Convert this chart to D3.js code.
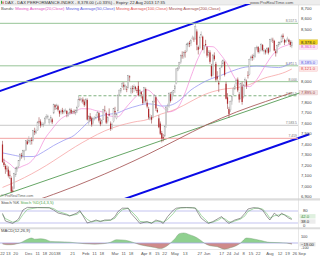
<!DOCTYPE html>
<html><head><meta charset="utf-8">
<script src="https://cdn.jsdelivr.net/npm/d3@7/dist/d3.min.js"></script>
<style>html,body{margin:0;padding:0;background:#fff;}svg{display:block;font-family:"Liberation Sans",Arial,sans-serif;}</style>
</head><body><svg id="c" width="320" height="256"></svg>
<script>
// ---------- DATA ----------
const dates = ["2012-11-07","2012-11-08","2012-11-09","2012-11-12","2012-11-13","2012-11-14","2012-11-15","2012-11-16","2012-11-19","2012-11-20","2012-11-21","2012-11-22","2012-11-23","2012-11-26","2012-11-27","2012-11-28","2012-11-29","2012-11-30",
"2012-12-03","2012-12-04","2012-12-05","2012-12-06","2012-12-07","2012-12-10","2012-12-11","2012-12-12","2012-12-13","2012-12-14","2012-12-17","2012-12-18","2012-12-19","2012-12-20","2012-12-21","2012-12-27","2012-12-28",
"2013-01-02","2013-01-03","2013-01-04","2013-01-07","2013-01-08","2013-01-09","2013-01-10","2013-01-11","2013-01-14","2013-01-15","2013-01-16","2013-01-17","2013-01-18","2013-01-21","2013-01-22","2013-01-23","2013-01-24","2013-01-25","2013-01-28","2013-01-29","2013-01-30","2013-01-31",
"2013-02-01","2013-02-04","2013-02-05","2013-02-06","2013-02-07","2013-02-08","2013-02-11","2013-02-12","2013-02-13","2013-02-14","2013-02-15","2013-02-18","2013-02-19","2013-02-20","2013-02-21","2013-02-22","2013-02-25","2013-02-26","2013-02-27","2013-02-28",
"2013-03-01","2013-03-04","2013-03-05","2013-03-06","2013-03-07","2013-03-08","2013-03-11","2013-03-12","2013-03-13","2013-03-14","2013-03-15","2013-03-18","2013-03-19","2013-03-20","2013-03-21","2013-03-22","2013-03-25","2013-03-26","2013-03-27","2013-03-28",
"2013-04-02","2013-04-03","2013-04-04","2013-04-05","2013-04-08","2013-04-09","2013-04-10","2013-04-11","2013-04-12","2013-04-15","2013-04-16","2013-04-17","2013-04-18","2013-04-19","2013-04-22","2013-04-23","2013-04-24","2013-04-25","2013-04-26","2013-04-29","2013-04-30",
"2013-05-02","2013-05-03","2013-05-06","2013-05-07","2013-05-08","2013-05-09","2013-05-10","2013-05-13","2013-05-14","2013-05-15","2013-05-16","2013-05-17","2013-05-20","2013-05-21","2013-05-22","2013-05-23","2013-05-24","2013-05-27","2013-05-28","2013-05-29","2013-05-30","2013-05-31",
"2013-06-03","2013-06-04","2013-06-05","2013-06-06","2013-06-07","2013-06-10","2013-06-11","2013-06-12","2013-06-13","2013-06-14","2013-06-17","2013-06-18","2013-06-19","2013-06-20","2013-06-21","2013-06-24","2013-06-25","2013-06-26","2013-06-27","2013-06-28",
"2013-07-01","2013-07-02","2013-07-03","2013-07-04","2013-07-05","2013-07-08","2013-07-09","2013-07-10","2013-07-11","2013-07-12","2013-07-15","2013-07-16","2013-07-17","2013-07-18","2013-07-19","2013-07-22","2013-07-23","2013-07-24","2013-07-25","2013-07-26","2013-07-29","2013-07-30","2013-07-31",
"2013-08-01","2013-08-02","2013-08-05","2013-08-06","2013-08-07","2013-08-08","2013-08-09","2013-08-12","2013-08-13","2013-08-14","2013-08-15","2013-08-16","2013-08-19","2013-08-20","2013-08-21","2013-08-22"];
const futureDates = ["2013-08-23","2013-08-26","2013-08-27","2013-08-28","2013-08-29","2013-08-30","2013-09-02","2013-09-03","2013-09-04"];

const opens = [7400,7230,7195,7170,7160,7110,7080,6960,6980,7110,7165,7190,7250,7300,7290,7330,7345,7430,
7420,7430,7445,7440,7530,7510,7535,7620,7620,7580,7590,7600,7660,7660,7610,7650,7640,
7700,7775,7740,7765,7720,7705,7730,7715,7720,7720,7680,7700,7730,7705,7720,7700,7720,7760,7835,7830,7830,7810,
7790,7825,7610,7670,7650,7600,7650,7660,7670,7700,7620,7600,7640,7730,7700,7620,7690,7600,7560,7620,
7720,7650,7720,7880,7910,7950,7970,7950,7930,7940,8050,7900,7940,7930,7950,7920,7960,7880,7900,7860,
7800,7930,7800,7740,7640,7660,7660,7810,7850,7730,7650,7600,7510,7470,7480,7580,7740,7760,7880,7830,7900,
7930,7980,8110,8140,8180,8250,8240,8280,8290,8350,8370,8365,8410,8410,8410,8480,8330,8320,8440,8430,8310,8360,
8330,8260,8280,8150,8060,8250,8170,8050,7990,8020,8140,8170,8190,7980,7850,7740,7730,7810,7880,7930,
7980,8020,7880,7840,7950,7860,7990,8000,8060,8070,8220,8240,8230,8240,8320,8330,8290,8300,8350,8290,8300,8290,8320,
8290,8400,8400,8390,8290,8280,8350,8370,8380,8440,8400,8380,8400,8400,8380,8340];
const highs = [7435,7265,7215,7200,7190,7150,7095,7000,7130,7185,7195,7250,7315,7320,7350,7350,7440,7450,
7480,7460,7470,7540,7560,7545,7625,7660,7640,7615,7610,7660,7690,7685,7650,7680,7655,
7790,7785,7790,7780,7730,7735,7750,7735,7745,7730,7710,7750,7745,7725,7735,7735,7770,7865,7850,7845,7850,7830,
7845,7840,7680,7700,7665,7665,7670,7690,7720,7710,7650,7640,7740,7770,7715,7670,7745,7620,7610,7750,
7760,7700,7880,7925,7940,8000,7995,7975,7960,8065,8060,7960,7965,7975,7960,7940,8000,7930,7910,7880,
7950,7945,7830,7760,7690,7680,7820,7880,7860,7750,7680,7620,7530,7500,7580,7770,7790,7900,7900,7910,7920,
7975,8130,8140,8190,8260,8290,8290,8300,8370,8380,8390,8400,8440,8430,8557,8500,8345,8440,8480,8440,8350,8400,
8340,8300,8300,8170,8265,8280,8190,8100,8010,8140,8200,8215,8200,8000,7890,7760,7820,7870,7950,7980,
8030,8040,7900,7990,8000,7980,8040,8020,8100,8220,8250,8260,8270,8330,8345,8340,8320,8370,8360,8320,8310,8330,8330,
8410,8420,8420,8400,8310,8355,8385,8390,8450,8460,8410,8400,8430,8410,8395,8395];
const lows = [7225,7185,7120,7140,7085,7070,6940,6945,6975,7090,7140,7175,7240,7265,7270,7250,7340,7395,
7410,7395,7400,7430,7490,7500,7530,7600,7560,7570,7565,7590,7640,7640,7590,7610,7595,
7690,7730,7735,7715,7665,7685,7690,7690,7705,7660,7665,7690,7690,7690,7690,7680,7700,7755,7815,7800,7790,7760,
7770,7630,7590,7620,7570,7590,7630,7640,7660,7610,7575,7590,7635,7710,7595,7600,7670,7530,7540,7610,
7680,7640,7715,7870,7890,7940,7920,7920,7900,7935,8005,7880,7890,7900,7915,7890,7860,7860,7840,7780,
7795,7800,7745,7640,7630,7600,7650,7800,7720,7700,7555,7490,7420,7430,7470,7560,7710,7750,7800,7820,7860,
7890,7975,8100,8120,8170,8220,8220,8230,8280,8330,8330,8340,8400,8380,8400,8300,8260,8310,8420,8300,8270,8340,
8230,8240,8170,8040,8050,8200,8000,8010,7900,8010,8130,8150,8050,7830,7740,7655,7710,7780,7870,7920,
7960,7900,7800,7830,7780,7840,7960,7930,8030,8060,8200,8200,8210,8230,8300,8270,8270,8290,8290,8260,8260,8270,8260,
8280,8380,8370,8290,8240,8270,8330,8350,8370,8410,8350,8370,8390,8360,8330,8320];
const closes = [7232,7204,7163,7169,7101,7102,6950,6950,7124,7172,7183,7245,7309,7292,7344,7338,7435,7405,
7435,7438,7434,7534,7517,7530,7614,7614,7581,7597,7593,7653,7668,7672,7636,7655,7612,
7779,7756,7777,7732,7695,7720,7708,7715,7729,7692,7698,7735,7702,7714,7712,7725,7757,7833,7832,7834,7809,7776,
7833,7638,7665,7640,7590,7652,7652,7660,7705,7628,7593,7627,7733,7728,7609,7661,7680,7549,7590,7741,
7708,7691,7871,7920,7935,7986,7953,7962,7925,8058,8042,7939,7932,7954,7932,7912,7870,7917,7879,7795,
7943,7817,7763,7658,7663,7637,7810,7871,7744,7712,7565,7503,7459,7460,7569,7758,7740,7887,7815,7899,7913,
7960,8122,8131,8181,8249,8249,8279,8279,8355,8369,8359,8399,8417,8404,8530,8352,8305,8425,8450,8305,8348,8349,
8249,8276,8190,8054,8255,8215,8019,8029,7974,8127,8155,8202,8065,7837,7789,7692,7809,7858,7931,7959,
8011,7917,7829,7980,7806,7969,8019,7964,8059,8212,8237,8226,8250,8323,8331,8284,8294,8356,8303,8301,8279,8317,8276,
8401,8406,8397,8298,8272,8347,8376,8373,8437,8426,8373,8391,8408,8380,8352,8378];

// moving averages (index, value)
const ma20Idx = [0,5,9,14,19,24,29,34,39,44,49,54,59,64,69,74,79,84,89,94,99,104,109,114,119,124,129,134,139,144,149,154,159,164,169,174,179,184,189,194,198];
const ma20Val = [7260,7215,7170,7195,7230,7318,7455,7548,7633,7679,7705,7742,7741,7723,7709,7671,7665,7744,7824,7892,7922,7866,7770,7712,7737,7860,8049,8228,8337,8334,8264,8166,8034,7960,7953,8019,8134,8240,8314,8345,8363];
const ma50Idx = [0,7,14,21,28,35,42,49,54,59,64,69,74,79,84,89,94,99,104,109,114,119,124,129,134,139,144,149,154,159,164,169,174,179,184,189,194,198];
const ma50Val = [7320,7300,7285,7285,7330,7390,7440,7487,7550,7618,7654,7679,7691,7702,7733,7756,7776,7789,7782,7767,7772,7800,7857,7921,7966,8005,8034,8057,8086,8111,8133,8144,8149,8145,8138,8135,8154,8185];
const ma100Idx = [0,10,20,30,40,50,60,70,80,90,99,104,109,114,119,124,129,134,139,144,149,154,159,164,169,174,179,184,189,194,198];
const ma100Val = [6990,7050,7120,7200,7290,7380,7460,7530,7580,7615,7638,7666,7693,7713,7740,7774,7812,7849,7881,7905,7923,7934,7939,7953,7972,8003,8033,8052,8070,8094,8121];
const ma200Idx = [0,20,40,60,80,100,120,140,160,180,198];
const ma200Val = [6800,6855,6950,7060,7180,7310,7450,7590,7710,7810,7895];

// trend lines (index, value)
const trendIdx = [-2, 208];   const trendVal = [6904, 7915];
const chanUpIdx = [-2, 172];  const chanUpVal = [7910, 8760];
const chanLoIdx = [78, 210];  const chanLoVal = [6853, 7498];

// horizontal levels
const levelVals  = [8557.5, 8151.5, 8000, 7865.5, 7583.5, 7459];
const levelText  = ["8,557.5", "8,151.5", "8,000", "7,865.5", "7,583.5", "7,459"];
const levelStart = [-2, -2, -2, 52, -2, -2];

// stochastic (index, value)
const stochIdx = [0,2,7,11,14,17,24,32,35,38,44,46,51,53,58,61,64,67,70,74,77,79,82,86,88,92,94,99,102,105,108,110,113,117,119,122,126,130,132,134,136,139,141,144,148,150,152,155,157,159,163,166,168,172,175,178,181,183,186,189,191,193,196,198];
const stochK = [68,30,18,40,85,98,97,96,85,70,60,55,70,82,20,27,35,27,35,35,52,77,94,94,68,35,18,27,18,35,27,18,52,85,94,97,97,96,94,68,44,27,18,27,44,52,35,18,27,35,44,69,90,97,94,85,52,35,69,52,69,60,44,38];
const stochD = [62,42,24,30,62,88,97,97,92,78,64,57,63,76,38,25,30,30,31,34,44,65,86,94,80,50,28,24,22,28,30,24,38,68,88,95,97,96,95,80,58,36,22,24,36,46,42,26,24,30,40,56,78,92,95,90,66,44,56,60,62,62,52,42];

// MACD (index, value)
const macdIdx = [0,3,6,10,12,15,20,22,26,30,33,39,46,51,56,63,70,74,78,84,89,94,100,104,108,112,115,118,121,124,128,133,136,138,142,147,152,156,160,163,167,171,176,183,190,195,198];
const macdVal = [-15,-27,-27,-11,0,36,79,60,68,52,25,20,13,0,-11,-19,-8,13,52,44,13,-27,-54,-70,-88,-55,0,68,148,159,132,84,36,0,-43,-59,-98,-75,-43,0,79,68,44,10,5,-3,-19];

// tick labels (date, text)
const tickDates = ["2012-11-07","2012-11-13","2012-11-20","2012-12-03","2012-12-11","2012-12-18","2013-01-02","2013-01-08","2013-01-21","2013-02-01","2013-02-11","2013-02-18","2013-03-01","2013-03-11","2013-03-18","2013-04-02","2013-04-08","2013-04-15","2013-04-22","2013-05-02","2013-05-13","2013-05-27","2013-06-03","2013-06-17","2013-06-24","2013-07-01","2013-07-08","2013-07-15","2013-07-22","2013-08-01","2013-08-12","2013-08-19","2013-08-26","2013-09-02"];
const tickText  = ["22","13","20","Dec","11","18","2013","8","21","Feb","11","18","Mar","11","18","Apr","8","15","22","May","13","27","Jun","17","24","Jul","8","15","22","Aug","12","19","26","Sep"];
const priceTicks = [6900,7000,7100,7200,7300,7400,7500,7600,7700,7800,7900,8000,8100,8200,8300,8400,8500,8600,8700];

// ---------- DRAW ----------
const svg = d3.select("#c");
const allDates = dates.concat(futureDates);
const idxOf = d => allDates.indexOf(d);
const x  = d3.scaleLinear().domain([0, 198]).range([2.5, 291.8]);
const yP = d3.scaleLinear().domain([6889, 8742]).range([198, 4]);
const yS = d3.scaleLinear().domain([0, 100]).range([227, 207]);
const yM = d3.scaleLinear().domain([-100, 100]).range([249.3, 236.7]);
const FS = 4.2;

svg.append("rect").attr("width",320).attr("height",256).attr("fill","#fff");
const defs = svg.append("defs");
defs.append("clipPath").attr("id","cpMain").append("rect").attr("x",0).attr("y",4).attr("width",310).attr("height",194);
defs.append("clipPath").attr("id","cpPlot").append("rect").attr("x",0).attr("y",4).attr("width",298).attr("height",194);
defs.append("clipPath").attr("id","cpPos").append("rect").attr("x",0).attr("y",229).attr("width",298).attr("height",yM(0)-229);
defs.append("clipPath").attr("id","cpNeg").append("rect").attr("x",0).attr("y",yM(0)).attr("width",298).attr("height",250-yM(0));

// header
svg.append("rect").attr("x",0).attr("y",0).attr("width",320).attr("height",5).attr("fill","#ededed");
svg.append("line").attr("x1",0).attr("x2",320).attr("y1",5).attr("y2",5).attr("stroke","#cfcfcf").attr("stroke-width",0.5);
// panel separators
svg.append("rect").attr("x",0).attr("y",198.3).attr("width",320).attr("height",2.2).attr("fill","#dcdcdc");
svg.append("rect").attr("x",0).attr("y",227.3).attr("width",320).attr("height",2).attr("fill","#dcdcdc");
svg.append("line").attr("x1",298.5).attr("x2",298.5).attr("y1",5).attr("y2",250).attr("stroke","#cfcfcf").attr("stroke-width",0.5);
svg.append("line").attr("x1",0).attr("x2",298.5).attr("y1",249.5).attr("y2",249.5).attr("stroke","#cfcfcf").attr("stroke-width",0.5);

const main = svg.append("g").attr("clip-path","url(#cpMain)");
const plot = svg.append("g").attr("clip-path","url(#cpPlot)");

// horizontal levels
const levelColor = ["#96c496","#96c496","#96c496","#5e9e5e","#c8c8c8","#f2a2a2"];
levelVals.forEach((v,i)=>{
  plot.append("line").attr("x1",x(levelStart[i])).attr("x2",298).attr("y1",yP(v)).attr("y2",yP(v))
    .attr("stroke",levelColor[i]).attr("stroke-width",i===3?0.8:1)
    .attr("stroke-dasharray",i===3?"3,2":null);
  plot.append("text").attr("x",297).attr("y",yP(v)-1).attr("text-anchor","end")
    .attr("font-size",3.4).attr("fill","#777").text(levelText[i]);
});

// moving averages
const mkLine = (idx, val) => d3.line().x((d,i)=>x(idx[i])).y(d=>yP(d)).curve(d3.curveMonotoneX)(val);
plot.append("path").attr("d",mkLine(ma200Idx,ma200Val)).attr("fill","none").attr("stroke","#a04a4a").attr("stroke-width",0.8);
plot.append("path").attr("d",mkLine(ma100Idx,ma100Val)).attr("fill","none").attr("stroke","#f59a9a").attr("stroke-width",0.7);
plot.append("path").attr("d",mkLine(ma50Idx,ma50Val)).attr("fill","none").attr("stroke","#8c8cf0").attr("stroke-width",0.7);
plot.append("path").attr("d",mkLine(ma20Idx,ma20Val)).attr("fill","none").attr("stroke","#f28ad8").attr("stroke-width",0.7);

// candles
const cg = plot.append("g");
closes.forEach((c,i)=>{
  const o = opens[i], up = c >= o;
  cg.append("line").attr("x1",x(i)).attr("x2",x(i)).attr("y1",yP(highs[i])).attr("y2",yP(lows[i]))
    .attr("stroke", up ? "#9a9a9a" : "#8a2a2a").attr("stroke-width",0.5);
  const top = yP(Math.max(o,c)), h = Math.max(0.6, Math.abs(yP(o)-yP(c)));
  cg.append("rect").attr("x",x(i)-0.6).attr("y",top).attr("width",1.2).attr("height",h)
    .attr("fill", up ? "#e4e4e4" : "#b02a2e").attr("stroke", up ? "#9a9a9a" : "none").attr("stroke-width",0.3);
});

// trend + channel
const tl = (idx,val) => d3.line().x((d,i)=>x(idx[i])).y(d=>yP(d))(val);
main.append("path").attr("d",tl(trendIdx,trendVal)).attr("stroke","#3f8f3f").attr("stroke-width",0.8).attr("fill","none");
main.append("path").attr("d",tl(chanUpIdx,chanUpVal)).attr("stroke","#0a0ae6").attr("stroke-width",2).attr("fill","none");
main.append("path").attr("d",tl(chanLoIdx,chanLoVal)).attr("stroke","#0a0ae6").attr("stroke-width",2).attr("fill","none");

// value labels on the price axis
const lastClose = closes[closes.length-1];
const valueLabels = [
  {v: ma200Val[ma200Val.length-1], bg:"#f4e4e4", fg:"#a04a4a", bd:"#d9b0b0", dy:0},
  {v: ma100Val[ma100Val.length-1], bg:"#fde6e6", fg:"#e05050", bd:"#f2b0b0", dy:0},
  {v: ma50Val[ma50Val.length-1],  bg:"#e8e8fc", fg:"#5a5ae0", bd:"#b8b8f0", dy:0},
  {v: ma20Val[ma20Val.length-1],  bg:"#fde6f6", fg:"#e050c0", bd:"#f0b0e0", dy:3.2},
  {v: lastClose,                  bg:"#f3d21c", fg:"#222",    bd:"#c8a800", dy:0}
];
const labelYs = valueLabels.map(l => yP(l.v) + l.dy);
priceTicks.forEach(v=>{
  const yy = yP(v);
  if (labelYs.some(ly => Math.abs(ly-yy) < 5)) return;
  svg.append("text").attr("x",301).attr("y",yy+1.4).attr("font-size",FS).attr("fill","#444").text(d3.format(",")(v));
});
valueLabels.forEach((l,k)=>{
  const yy = labelYs[k];
  svg.append("rect").attr("x",299.5).attr("y",yy-2.3).attr("width",18).attr("height",4.6).attr("fill",l.bg).attr("stroke",l.bd).attr("stroke-width",0.3);
  svg.append("text").attr("x",301).attr("y",yy+1.4).attr("font-size",FS).attr("fill",l.fg).text(d3.format(",.1f")(l.v));
});

// header texts
svg.append("rect").attr("x",1).attr("y",0.8).attr("width",1).attr("height",3).attr("fill","#3a3");
svg.append("rect").attr("x",2.5).attr("y",1.5).attr("width",1).attr("height",2.3).attr("fill","#c33");
svg.append("text").attr("x",5).attr("y",3.8).attr("font-size",FS).attr("fill","#333")
  .text("DAX - DAX PERFORMANCE-INDEX - 8,378.00 (+0.33%) - Expiry: 22 Aug 2013 17:35");
svg.append("text").attr("x",250).attr("y",3.8).attr("font-size",FS).attr("fill","#555").text("www.ProRealTime.com");
const leg = svg.append("text").attr("x",1).attr("y",9.5).attr("font-size",FS);
leg.append("tspan").attr("fill","#555").text("Bands: ");
leg.append("tspan").attr("fill","#e050c0").text("Moving Average(20,Close) ");
leg.append("tspan").attr("fill","#5a5ae0").text("Moving Average(50,Close) ");
leg.append("tspan").attr("fill","#e05050").text("Moving Average(100,Close) ");
leg.append("tspan").attr("fill","#a04a4a").text("Moving Average(200,Close)");
svg.append("text").attr("x",1).attr("y",197).attr("font-size",3.6).attr("fill","#666").text("© ProRealTime.com");

// stochastic panel
[80,20].forEach(v=>svg.append("line").attr("x1",0).attr("x2",298).attr("y1",yS(v)).attr("y2",yS(v)).attr("stroke","#b4b4ec").attr("stroke-width",0.8));
const sLine = (arr) => d3.line().x((d,i)=>x(stochIdx[i])).y(d=>yS(d))(arr);
svg.append("path").attr("d",sLine(stochD)).attr("fill","none").attr("stroke","#6cbf6c").attr("stroke-width",0.6);
svg.append("path").attr("d",sLine(stochK)).attr("fill","none").attr("stroke","#555").attr("stroke-width",0.6);
const sh = svg.append("text").attr("x",1).attr("y",203.8).attr("font-size",FS);
sh.append("tspan").attr("fill","#444").text("Stoch %K ");
sh.append("tspan").attr("fill","#4ea64e").text("Stoch %D(14,3,5)");
svg.append("text").attr("x",303).attr("y",yS(80)+1.4).attr("font-size",FS).attr("fill","#444").text("80");
svg.append("text").attr("x",303).attr("y",yS(0)).attr("font-size",FS).attr("fill","#444").text("0");
[[stochD,"#dff0df","#3c8c3c"],[stochK,"#ececec","#333"]].forEach((s,j)=>{
  const v = s[0][s[0].length-1];
  svg.append("rect").attr("x",299.5).attr("y",yS(v)-2.3+(j?2.2:-2.2)).attr("width",16).attr("height",4.4).attr("fill",s[1]);
  svg.append("text").attr("x",301).attr("y",yS(v)+1.4+(j?2.2:-2.2)).attr("font-size",FS).attr("fill",s[2]).text(d3.format(".1f")(v));
});

// MACD panel
const mArea = d3.area().x((d,i)=>x(macdIdx[i])).y0(yM(0)).y1(d=>yM(d)).curve(d3.curveMonotoneX);
const mLine = d3.line().x((d,i)=>x(macdIdx[i])).y(d=>yM(d)).curve(d3.curveMonotoneX);
svg.append("path").attr("d",mArea(macdVal)).attr("fill","#8fd08f").attr("clip-path","url(#cpPos)");
svg.append("path").attr("d",mArea(macdVal)).attr("fill","#cf8a8a").attr("clip-path","url(#cpNeg)");
svg.append("line").attr("x1",0).attr("x2",298).attr("y1",yM(0)).attr("y2",yM(0)).attr("stroke","#a8a8e8").attr("stroke-width",0.8);
svg.append("path").attr("d",mLine(macdVal)).attr("fill","none").attr("stroke","#6f9a6f").attr("stroke-width",0.4);
svg.append("text").attr("x",1).attr("y",232).attr("font-size",FS).attr("fill","#444").text("MACD(12,26,9)");
[[100,"100"],[-100,"-100"]].forEach(t=>svg.append("text").attr("x",301).attr("y",Math.min(yM(t[0])+1.4, 249.4)).attr("font-size",3.8).attr("fill","#444").text(t[1]));
const mv = macdVal[macdVal.length-1];
svg.append("rect").attr("x",299.5).attr("y",yM(mv)-2.2).attr("width",16).attr("height",4.4).attr("fill","#e6e6e6");
svg.append("text").attr("x",301).attr("y",yM(mv)+1.4).attr("font-size",FS).attr("fill","#333").text(d3.format(".2f")(mv));

// x axis
tickDates.forEach((d,i)=>{
  svg.append("text").attr("x",x(idxOf(d))).attr("y",255).attr("text-anchor","middle")
    .attr("font-size",FS).attr("fill","#555").text(tickText[i]);
});
</script></body></html>
